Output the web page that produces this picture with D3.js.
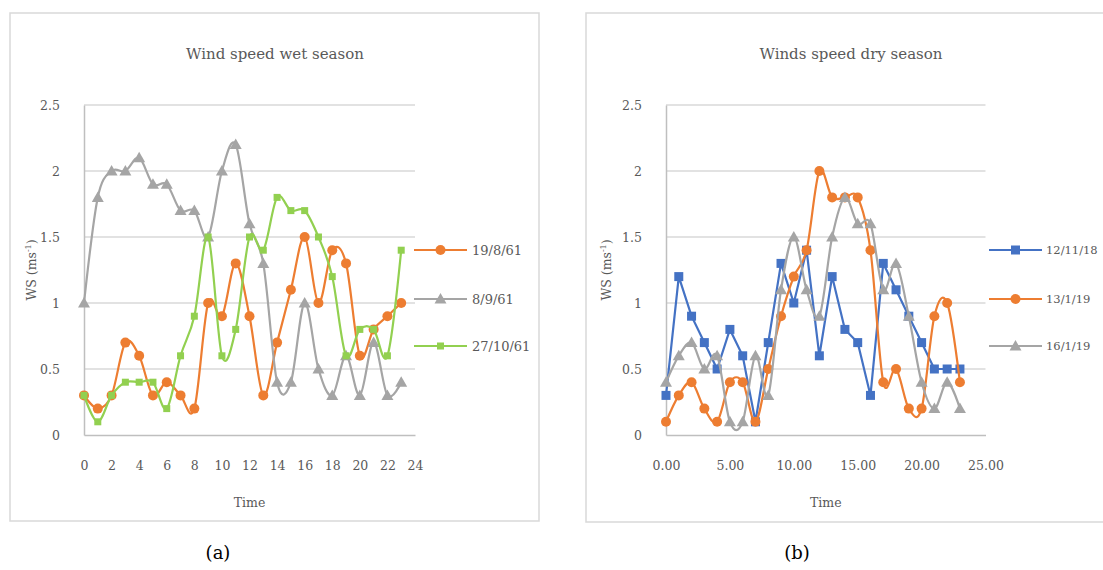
<!DOCTYPE html>
<html>
<head>
<meta charset="utf-8">
<script src="https://cdn.jsdelivr.net/npm/d3@7"></script>
<style>
  html, body { margin: 0; padding: 0; background: #fff; }
  svg text { font-family: "DejaVu Serif", "Liberation Serif", serif !important; }
</style>
</head>
<body>
<svg id="chart" width="1103" height="570"></svg>
<script>
// Hourly wind speed (m/s), hours 0..23
const hours = d3.range(24);

// Wet season
const wet_19_8_61  = [0.3,0.2,0.3,0.7,0.6,0.3,0.4,0.3,0.2,1.0,0.9,1.3,0.9,0.3,0.7,1.1,1.5,1.0,1.4,1.3,0.6,0.8,0.9,1.0];
const wet_8_9_61   = [1.0,1.8,2.0,2.0,2.1,1.9,1.9,1.7,1.7,1.5,2.0,2.2,1.6,1.3,0.4,0.4,1.0,0.5,0.3,0.6,0.3,0.7,0.3,0.4];
const wet_27_10_61 = [0.3,0.1,0.3,0.4,0.4,0.4,0.2,0.6,0.9,1.5,0.6,0.8,1.5,1.4,1.8,1.7,1.7,1.5,1.2,0.6,0.8,0.8,0.6,1.4];

// Dry season
const dry_12_11_18 = [0.3,1.2,0.9,0.7,0.5,0.8,0.6,0.1,0.7,1.3,1.0,1.4,0.6,1.2,0.8,0.7,0.3,1.3,1.1,0.9,0.7,0.5,0.5,0.5];
const dry_13_1_19  = [0.1,0.3,0.4,0.2,0.1,0.4,0.4,0.1,0.5,0.9,1.2,1.4,2.0,1.8,1.8,1.8,1.4,0.4,0.5,0.2,0.2,0.9,1.0,0.4];
const dry_16_1_19  = [0.4,0.6,0.7,0.5,0.6,0.1,0.1,0.6,0.3,1.1,1.5,1.1,0.9,1.5,1.8,1.6,1.6,1.1,1.3,0.9,0.4,0.2,0.4,0.2];

const yTicks = [0, 0.5, 1, 1.5, 2, 2.5];
const wetXTicks = d3.range(0, 25, 2);
const dryXTicks = [0, 5, 10, 15, 20, 25];

const ORANGE = "#ed7d31", GREY = "#a5a5a5", GREEN = "#92d050", BLUE = "#4472c4";
const TEXT = "#595959", GRID = "#d9d9d9", AXIS = "#bfbfbf";

const svg = d3.select("#chart");

function drawMarker(g, shape, color, x, y) {
  if (shape === "circle") {
    g.append("circle").attr("cx", x).attr("cy", y).attr("r", 5).attr("fill", color);
  } else if (shape === "triangle") {
    g.append("path").attr("d", `M${x},${y-6}L${x+6},${y+4.5}L${x-6},${y+4.5}Z`).attr("fill", color);
  } else if (shape === "square") {
    g.append("rect").attr("x", x-3.5).attr("y", y-3.5).attr("width", 7).attr("height", 7).attr("fill", color);
  } else if (shape === "bigsquare") {
    g.append("rect").attr("x", x-4.5).attr("y", y-4.5).attr("width", 9).attr("height", 9).attr("fill", color);
  }
}

function drawPanel(cfg) {
  const g = svg.append("g");
  // chart frame
  g.append("rect").attr("x", cfg.frame[0]).attr("y", cfg.frame[1])
    .attr("width", cfg.frame[2]).attr("height", cfg.frame[3])
    .attr("fill", "none").attr("stroke", GRID).attr("stroke-width", 1.5);

  const x = d3.scaleLinear().domain(cfg.xDomain).range(cfg.xRange);
  const y = d3.scaleLinear().domain([0, 2.5]).range([435, 105]);

  // horizontal gridlines
  g.append("g").selectAll("line").data(yTicks.filter(d => d > 0)).join("line")
    .attr("x1", cfg.xRange[0]).attr("x2", cfg.xRange[1])
    .attr("y1", d => y(d)).attr("y2", d => y(d))
    .attr("stroke", GRID).attr("stroke-width", 1.5);

  // y axis
  const yAxis = g.append("g").attr("transform", `translate(${cfg.xRange[0]},0)`)
    .call(d3.axisLeft(y).tickValues(yTicks).tickFormat(d3.format("")).tickSize(0).tickPadding(cfg.yPad));
  yAxis.attr("font-size", 12.5);
  yAxis.select(".domain").attr("stroke", AXIS).attr("stroke-width", 1.5);
  yAxis.selectAll("text").attr("fill", TEXT);

  // x axis
  const xAxis = g.append("g").attr("transform", `translate(0,435)`)
    .call(d3.axisBottom(x).tickValues(cfg.xTicks).tickFormat(cfg.xFormat).tickSize(0).tickPadding(26));
  xAxis.attr("font-size", 12.5);
  xAxis.select(".domain").attr("stroke", AXIS).attr("stroke-width", 1.5);
  xAxis.selectAll("text").attr("fill", TEXT);

  // titles
  g.append("text").attr("x", cfg.titleX).attr("y", 59).attr("text-anchor", "middle")
    .attr("fill", TEXT).attr("font-size", 15).text(cfg.title);
  g.append("text").attr("x", (cfg.xRange[0] + cfg.xRange[1]) / 2).attr("y", 507).attr("text-anchor", "middle")
    .attr("fill", TEXT).attr("font-size", 12.5).text("Time");
  const yt = g.append("text").attr("transform", `translate(${cfg.yTitleX},270) rotate(-90)`)
    .attr("text-anchor", "middle").attr("fill", TEXT).attr("font-size", 12.5);
  yt.append("tspan").text("WS (ms");
  yt.append("tspan").attr("dy", -5).attr("font-size", 8).text("-1");
  yt.append("tspan").attr("dy", 5).text(")");

  // series
  cfg.series.forEach((s, i) => {
    const line = d3.line().x((d, j) => x(hours[j])).y(d => y(d))
      .curve(s.smooth ? d3.curveCatmullRom.alpha(0) : d3.curveLinear);
    g.append("path").datum(s.values).attr("d", line)
      .attr("fill", "none").attr("stroke", s.color).attr("stroke-width", 2.2);
    const mg = g.append("g");
    s.values.forEach((v, j) => drawMarker(mg, s.shape, s.color, x(hours[j]), y(v)));

    // legend entry
    const ly = cfg.legendY[i];
    g.append("line").attr("x1", cfg.legendX).attr("x2", cfg.legendX + 53)
      .attr("y1", ly).attr("y2", ly).attr("stroke", s.color).attr("stroke-width", 2.2);
    drawMarker(g, s.shape, s.color, cfg.legendX + 26.5, ly);
    g.append("text").attr("x", cfg.legendX + cfg.legendGap).attr("y", ly).attr("dy", "0.35em")
      .attr("fill", TEXT).attr("font-size", cfg.legendSize).text(s.name);
  });

  // panel label
  svg.append("text").attr("x", cfg.panelLabelX).attr("y", 559).attr("text-anchor", "middle")
    .attr("fill", "#000").attr("font-size", 18).text(cfg.panelLabel);
}

drawPanel({
  frame: [10, 13, 529, 508],
  xDomain: [0, 24], xRange: [84, 415],
  xTicks: wetXTicks, xFormat: d3.format("d"),
  yPad: 24, yTitleX: 36, titleX: 275,
  title: "Wind speed wet season",
  legendX: 414, legendY: [250, 299, 346], legendGap: 58, legendSize: 13,
  panelLabel: "(a)", panelLabelX: 218,
  series: [
    { name: "19/8/61",  values: wet_19_8_61,  color: ORANGE, shape: "circle",   smooth: true },
    { name: "8/9/61",   values: wet_8_9_61,   color: GREY,   shape: "triangle", smooth: true },
    { name: "27/10/61", values: wet_27_10_61, color: GREEN,  shape: "square",   smooth: true }
  ]
});

drawPanel({
  frame: [586, 13, 560, 509],
  xDomain: [0, 25], xRange: [666, 985.5],
  xTicks: dryXTicks, xFormat: d3.format(".2f"),
  yPad: 24, yTitleX: 611, titleX: 851,
  title: "Winds speed dry season",
  legendX: 989, legendY: [250, 299, 346], legendGap: 57, legendSize: 11.5,
  panelLabel: "(b)", panelLabelX: 797,
  series: [
    { name: "12/11/18", values: dry_12_11_18, color: BLUE,   shape: "bigsquare", smooth: false },
    { name: "13/1/19",  values: dry_13_1_19,  color: ORANGE, shape: "circle",    smooth: true },
    { name: "16/1/19",  values: dry_16_1_19,  color: GREY,   shape: "triangle",  smooth: true }
  ]
});
</script>
</body>
</html>
